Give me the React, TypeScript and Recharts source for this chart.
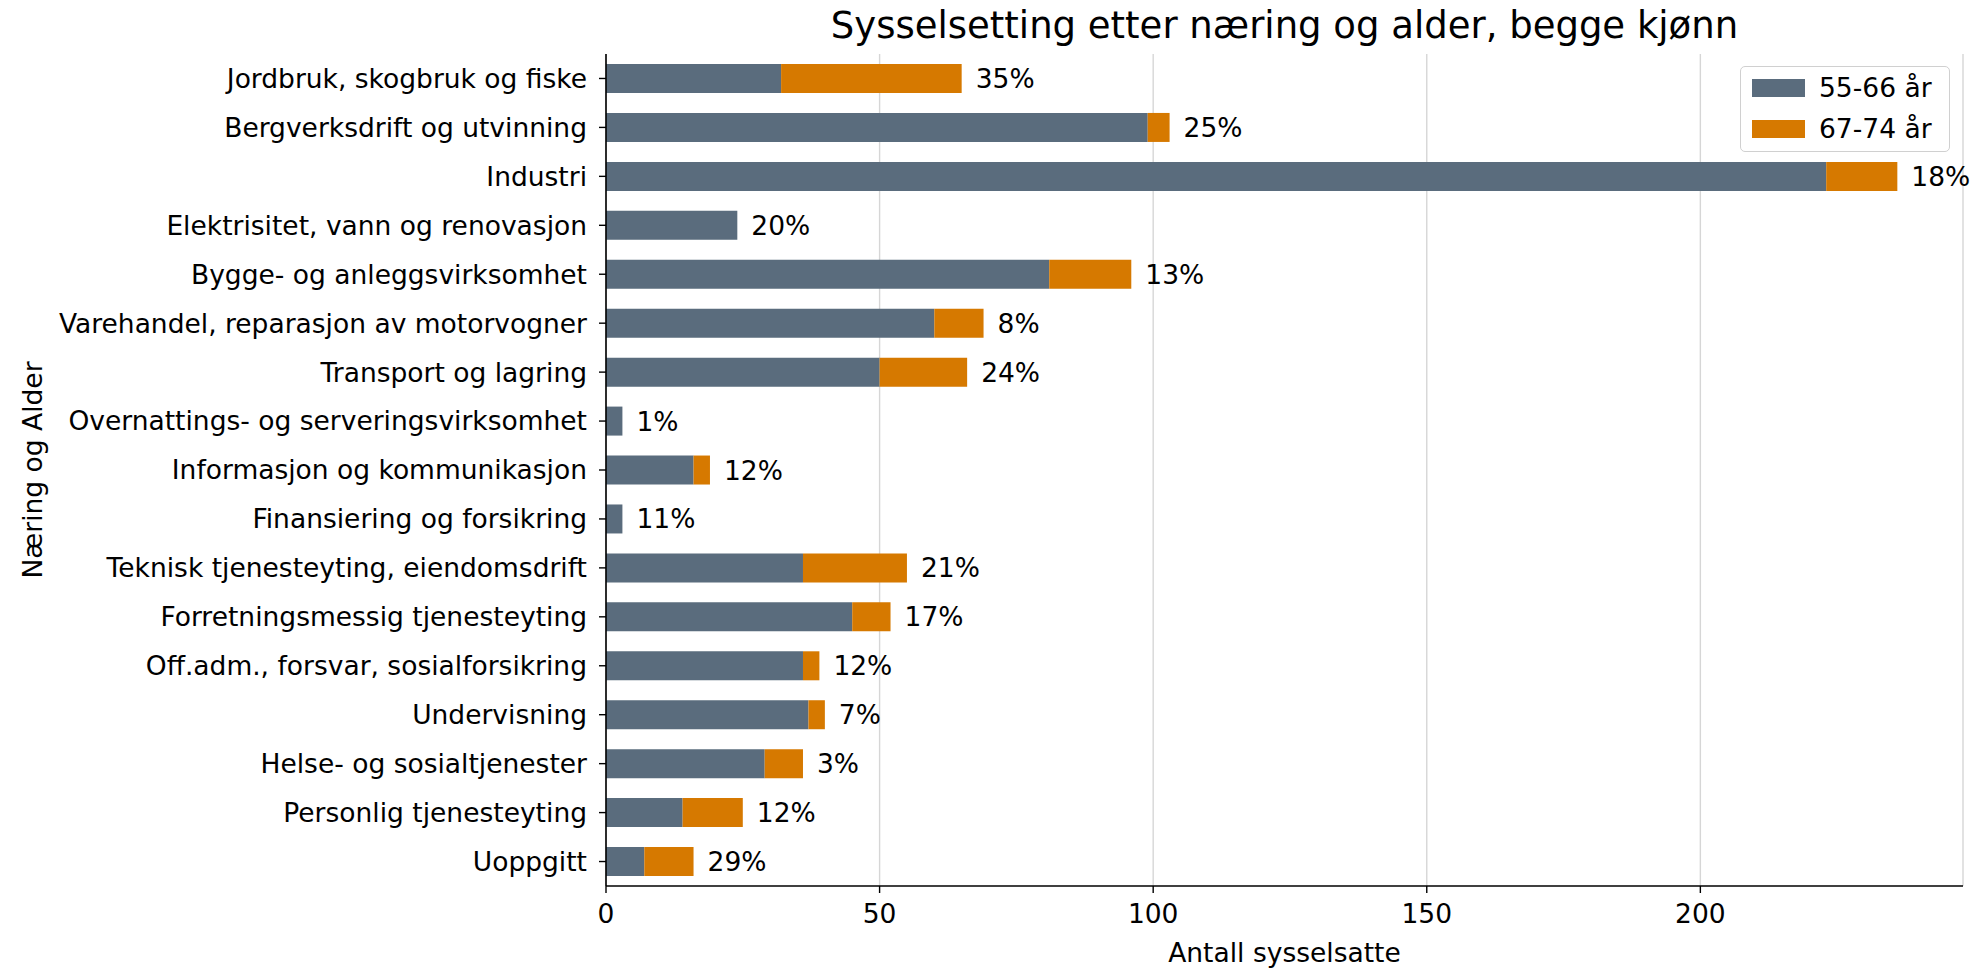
import { BarChart, Bar, XAxis, YAxis, CartesianGrid, Legend, LabelList } from "recharts";

const categories = [
  "Jordbruk, skogbruk og fiske",
  "Bergverksdrift og utvinning",
  "Industri",
  "Elektrisitet, vann og renovasjon",
  "Bygge- og anleggsvirksomhet",
  "Varehandel, reparasjon av motorvogner",
  "Transport og lagring",
  "Overnattings- og serveringsvirksomhet",
  "Informasjon og kommunikasjon",
  "Finansiering og forsikring",
  "Teknisk tjenesteyting, eiendomsdrift",
  "Forretningsmessig tjenesteyting",
  "Off.adm., forsvar, sosialforsikring",
  "Undervisning",
  "Helse- og sosialtjenester",
  "Personlig tjenesteyting",
  "Uoppgitt",
];

const age5566 = [32, 99, 223, 24, 81, 60, 50, 3, 16, 3, 36, 45, 36, 37, 29, 14, 7];
const age6774 = [33, 4, 13, 0, 15, 9, 16, 0, 3, 0, 19, 7, 3, 3, 7, 11, 9];
const pctLabels = ["35%", "25%", "18%", "20%", "13%", "8%", "24%", "1%", "12%", "11%", "21%", "17%", "12%", "7%", "3%", "12%", "29%"];

const xTicks = [0, 50, 100, 150, 200];

const GREY = "#5a6c7d";
const ORANGE = "#d67900";
const FONT = "DejaVu Sans";
const FS = 26.5;

// label goes on the orange part, or on the grey bar when there is no 67-74 part
const chartData = categories.map((name, i) => ({
  name,
  a: age5566[i],
  b: age6774[i],
  pctTop: age6774[i] ? pctLabels[i] : "",
  pctBase: age6774[i] ? "" : pctLabels[i],
}));

const renderPct = (props: any) => {
  const { x, y, width, height, value } = props;
  if (!value) return null;
  return (
    <text
      x={Number(x) + Number(width) + 14}
      y={Number(y) + Number(height) / 2}
      dominantBaseline="central"
      fontFamily={FONT}
      fontSize={FS}
      fill="#000"
    >
      {value}
    </text>
  );
};

const renderLegend = () => (
  <div
    style={{
      width: 210,
      height: 86,
      boxSizing: "border-box",
      border: "1.5px solid #d0d0d0",
      borderRadius: 5,
      background: "rgba(255,255,255,0.8)",
      position: "relative",
      fontFamily: FONT,
      fontSize: FS,
    }}
  >
    {[
      { label: "55-66 år", color: GREY, cy: 21 },
      { label: "67-74 år", color: ORANGE, cy: 62 },
    ].map((e) => (
      <div key={e.label}>
        <div style={{ position: "absolute", left: 11, top: e.cy - 9, width: 53, height: 18, background: e.color }} />
        <div style={{ position: "absolute", left: 78, top: e.cy - 16, lineHeight: "32px", whiteSpace: "nowrap" }}>{e.label}</div>
      </div>
    ))}
  </div>
);

export default function App() {
  return (
    <div style={{ position: "relative", width: 1972, height: 960, fontFamily: FONT }}>
      <div
        style={{
          position: "absolute",
          left: 598,
          width: 1357,
          top: -1,
          textAlign: "center",
          fontSize: 37,
          lineHeight: "37px",
          whiteSpace: "nowrap",
          color: "#000",
        }}
      >
        Sysselsetting etter næring og alder, begge kjønn
      </div>
      <BarChart
        width={1972}
        height={960}
        data={chartData}
        layout="vertical"
        margin={{ top: 46, right: 17, bottom: 42, left: 0 }}
      >
        <CartesianGrid horizontal={false} stroke="#d6d6d6" strokeWidth={1.4} />
        <XAxis
          type="number"
          domain={[0, 248]}
          ticks={xTicks}
          height={40}
          tickSize={7}
          tickMargin={11}
          axisLine={{ stroke: "#000", strokeWidth: 1.6 }}
          tickLine={{ stroke: "#000", strokeWidth: 1.4 }}
          tick={{ fill: "#000", fontSize: FS, fontFamily: FONT }}
          label={{
            value: "Antall sysselsatte",
            position: "bottom",
            offset: 17,
            fill: "#000",
            fontSize: FS,
            fontFamily: FONT,
          }}
        />
        <YAxis
          type="category"
          dataKey="name"
          width={598}
          interval={0}
          tickSize={7}
          tickMargin={12}
          axisLine={{ stroke: "#000", strokeWidth: 1.6 }}
          tickLine={{ stroke: "#000", strokeWidth: 1.4 }}
          tick={{ fill: "#000", fontSize: FS, fontFamily: FONT }}
          label={{
            value: "Næring og Alder",
            position: "center",
            content: (p: any) => {
              const vb = p.viewBox || {};
              const cy = Number(vb.y) + Number(vb.height) / 2;
              return (
                <text
                  x={24}
                  y={cy}
                  transform={`rotate(-90, 24, ${cy})`}
                  textAnchor="middle"
                  dominantBaseline="central"
                  fontFamily={FONT}
                  fontSize={FS}
                  fill="#000"
                >
                  Næring og Alder
                </text>
              );
            },
          }}
        />
        <Legend
          layout="horizontal"
          verticalAlign="middle"
          align="center"
          wrapperStyle={{ top: 58, left: 1732, width: 210, height: 86 }}
          content={renderLegend}
        />
        <Bar dataKey="a" name="55-66 år" stackId="s" fill={GREY} barSize={29} isAnimationActive={false}>
          <LabelList dataKey="pctBase" content={renderPct} />
        </Bar>
        <Bar dataKey="b" name="67-74 år" stackId="s" fill={ORANGE} barSize={29} isAnimationActive={false}>
          <LabelList dataKey="pctTop" content={renderPct} />
        </Bar>
      </BarChart>
    </div>
  );
}
